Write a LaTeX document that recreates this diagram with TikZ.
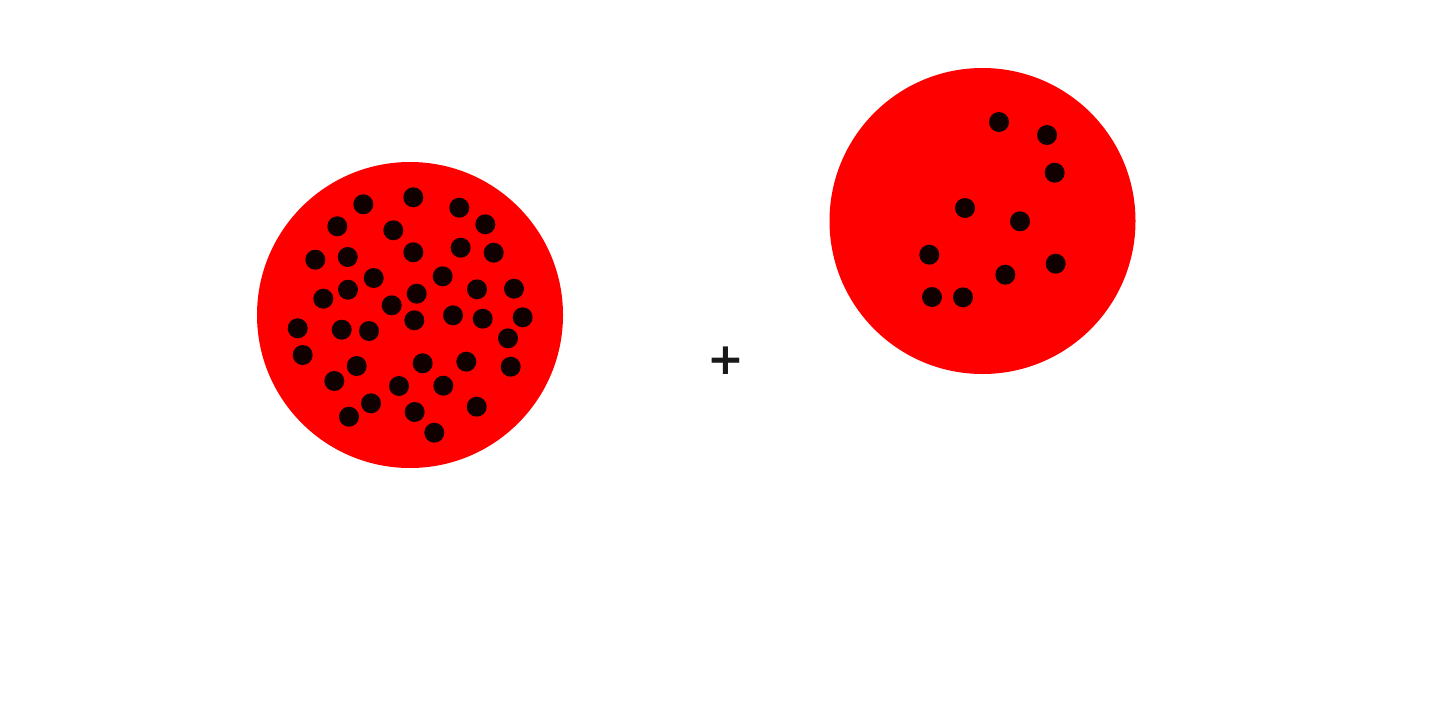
\documentclass[tikz,border=0pt]{standalone}
\usepackage{fontspec}
\newfontfamily\plusfont{DejaVu Sans Bold}
\definecolor{cellred}{RGB}{255,0,0}
\definecolor{dotdark}{RGB}{16,0,0}
\tikzset{
  cell/.style={circle, fill=cellred, draw=none, minimum size=306pt, inner sep=0pt},
  grain/.style={circle, fill=dotdark, draw=none, minimum size=20pt, inner sep=0pt}
}
\begin{document}
\begin{tikzpicture}[x=1pt,y=-1pt]
\useasboundingbox (0,0) rectangle (1440,720);
\node[cell] (left) at (410,315) {};
\node[cell] (right) at (982.5,221) {};
\foreach \x/\y [count=\i] in {363.3/204.3, 413.3/197.3, 459.3/207.7, 337.3/226.3, 393.3/230.3, 485.3/224.3, 315.3/259.7, 347.7/257, 413.3/252.3, 460.7/247.7, 493.7/252.7, 373.7/278, 442.7/276.3, 348/289.7, 323.3/298.7, 416.7/293.7, 391.7/305.3, 477/289.3, 514/288.7, 297.7/328.3, 341.7/329.7, 369/331, 414.3/320.3, 453/315.3, 482.7/318.7, 522.7/317.3, 508/338.3, 302.7/355, 356.7/366, 422.7/363.3, 466.3/361.7, 510.7/366.7, 334.3/381, 399/386, 443.3/385.7, 371/403.3, 349/416.7, 414.7/412, 476.7/406.7, 434.3/432.7}
  \node[grain] (l\i) at (\x,\y) {};
\foreach \x/\y [count=\i] in {999/122, 1047/135, 1054.7/172.7, 965/208, 1020/221.3, 929.3/254.7, 1055.7/263.7, 1005.3/274.7, 932/297, 963/297.3}
  \node[grain] (r\i) at (\x,\y) {};
\node[inner sep=0pt, text=black!90] (plus) at (726,361) {\plusfont\fontsize{44}{44}\selectfont +};
\end{tikzpicture}
\end{document}
